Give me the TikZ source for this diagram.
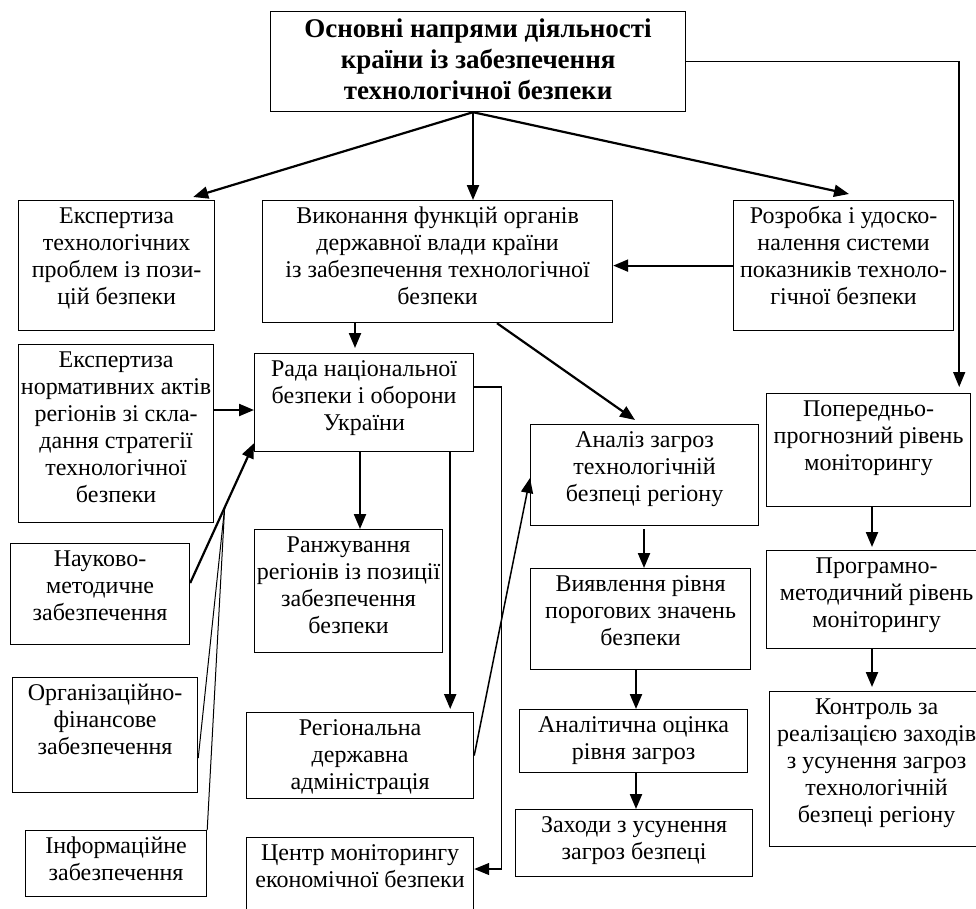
\documentclass[tikz,border=0pt]{standalone}
\usepackage{fontspec}
\setmainfont{Liberation Serif}
\usetikzlibrary{arrows.meta,calc}
\newcommand\bxt[3]{\parbox[c][#2][t]{#1}{\centering\rule{0pt}{23pt}#3\par}}
\newcommand\bxtitle[3]{\parbox[c][#2][t]{#1}{\centering\rule{0pt}{26pt}#3\par}}
\tikzset{
  box/.style={draw, line width=1.2pt, inner sep=0pt, anchor=north west, font=\fontsize{24}{27}\selectfont},
  titlebox/.style={box, font=\fontsize{27}{31}\selectfont\bfseries},
  arr/.style={line width=2.2pt, -{Triangle[length=15pt,width=12pt]}},
  thinarr/.style={line width=1.2pt, -{Triangle[length=15pt,width=12pt]}},
  thinline/.style={line width=1pt},
  vthick/.style={line width=2.2pt, -{Triangle[length=15pt,width=12pt]}}
}
\begin{document}
\begin{tikzpicture}[x=1pt,y=-1pt]
\useasboundingbox (0,0) rectangle (976,908);
\clip (0,0) rectangle (976,908);
% boxes
\node[titlebox] (T) at (270,11) {\bxtitle{415pt}{100pt}{Основні напрями діяльності\\країни із забезпечення\\технологічної безпеки}};
\node[box] (E1) at (18,200) {\bxt{196pt}{130pt}{Експертиза\\технологічних\\проблем із пози-\\цій безпеки}};
\node[box] (V) at (262,200) {\bxt{350pt}{122pt}{Виконання функцій органів\\державної влади країни\\із забезпечення технологічної\\безпеки}};
\node[box] (R) at (733,200) {\bxt{220pt}{130pt}{Розробка і удоско-\\налення системи\\показників техноло-\\гічної безпеки}};
\node[box] (E2) at (18,344) {\bxt{195pt}{178pt}{Експертиза\\нормативних актів\\регіонів зі скла-\\дання стратегії\\технологічної\\безпеки}};
\node[box] (RN) at (254,353) {\bxt{219pt}{98pt}{Рада національної\\безпеки і оборони\\України}};
\node[box] (NM) at (10,543) {\bxt{179pt}{101pt}{Науково-\\методичне\\забезпечення}};
\node[box] (OF) at (12,677) {\bxt{185pt}{115pt}{Організаційно-\\фінансове\\забезпечення}};
\node[box] (IZ) at (25,830) {\bxt{181pt}{66pt}{Інформаційне\\забезпечення}};
\node[box] (RZ) at (254,529) {\bxt{188pt}{123pt}{Ранжування\\регіонів із позиції\\забезпечення\\безпеки}};
\node[box] (RDA) at (246,712) {\bxt{227pt}{86pt}{Регіональна\\державна\\адміністрація}};
\node[box] (CM) at (246,837) {\bxt{227pt}{93pt}{Центр моніторингу\\економічної безпеки}};
\node[box] (AZ) at (530,424) {\bxt{228pt}{101pt}{Аналіз загроз\\технологічній\\безпеці регіону}};
\node[box] (VR) at (530,568) {\bxt{220pt}{101pt}{Виявлення рівня\\порогових значень\\безпеки}};
\node[box] (AO) at (519,709) {\bxt{228pt}{63pt}{Аналітична оцінка\\рівня загроз}};
\node[box] (ZU) at (515,809) {\bxt{237pt}{67pt}{Заходи з усунення\\загроз безпеці}};
\node[box] (PP) at (766,393) {\bxt{204pt}{113pt}{Попередньо-\\прогнозний рівень\\моніторингу}};
\node[box] (PM) at (766,550) {\bxt{220pt}{98pt}{Програмно-\\методичний рівень\\моніторингу}};
\node[box] (KR) at (769,691) {\bxt{214pt}{155pt}{Контроль за\\реалізацією заходів\\з усунення загроз\\технологічній\\безпеці регіону}};
% coordinates
\coordinate (t0) at ($(T.south west)+(203,0)$);
\coordinate (e1in) at ($(E1.north east)+(-22,-3)$);
\coordinate (rin) at ($(R.north west)+(116,-6)$);
\coordinate (ppin) at ($(PP.north east)+(-12,-6)$);
\coordinate (v1) at ($(V.south west)+(93,0)$);
\coordinate (v2) at ($(V.south west)+(235,0)$);
\coordinate (azin) at ($(AZ.north west)+(105,-4)$);
\coordinate (e2out) at ($(E2.north east)+(0,66)$);
\coordinate (n1) at ($(NM.north east)+(0,40)$);
\coordinate (r1) at ($(RN.south west)+(0,-9)$);
\coordinate (J) at ($(n1)!0.54!(r1)$);
\coordinate (of1) at ($(OF.south east)+(0,-35)$);
\coordinate (rn1) at ($(RN.south west)+(106,0)$);
\coordinate (rn2) at ($(RN.south east)+(-24,0)$);
\coordinate (rn3) at ($(RN.north east)+(0,34)$);
\coordinate (cm1) at ($(CM.north east)+(0,32)$);
\coordinate (az1) at ($(AZ.north west)+(0,54)$);
\coordinate (az2) at ($(AZ.south west)+(114,3)$);
\coordinate (vr1) at ($(VR.south west)+(106,0)$);
\coordinate (ao1) at ($(AO.south west)+(117,0)$);
\coordinate (pp1) at ($(PP.south west)+(106,0)$);
\coordinate (pm1) at ($(PM.south west)+(106,0)$);
% connectors
\draw[arr] (t0) -- (e1in);
\draw[arr] (t0) -- (t0 |- V.north);
\draw[arr] (t0) -- (rin);
\draw[thinarr, line width=1.5pt] (T.east) -| (ppin);
\draw[arr] (R.west) -- (R.west -| V.east);
\draw[arr] (v1) -- ($(v1 |- RN.north)+(0,-5)$);
\draw[arr] (v2) -- (azin);
\draw[arr] (e2out) -- (e2out -| RN.west);
\draw[arr] (n1) -- (r1);
\draw[thinline] (of1) -- (J);
\draw[thinline] (IZ.north east) -- (J);
\draw[arr] (rn1) -- (rn1 |- RZ.north);
\draw[vthick] (rn2) -- ($(rn2 |- RDA.north)+(0,-3)$);
\draw[thinarr] (rn3) -- ++(27,0) |- (cm1);
\draw[thinarr, line width=1.5pt] (RDA.east) -- (az1);
\draw[arr] (az2) -- (az2 |- VR.north);
\draw[arr] (vr1) -- (vr1 |- AO.north);
\draw[arr] (ao1) -- (ao1 |- ZU.north);
\draw[arr] (pp1) -- ($(pp1 |- PM.north)+(0,-3)$);
\draw[arr] (pm1) -- ($(pm1 |- KR.north)+(0,-4)$);
\end{tikzpicture}
\end{document}
